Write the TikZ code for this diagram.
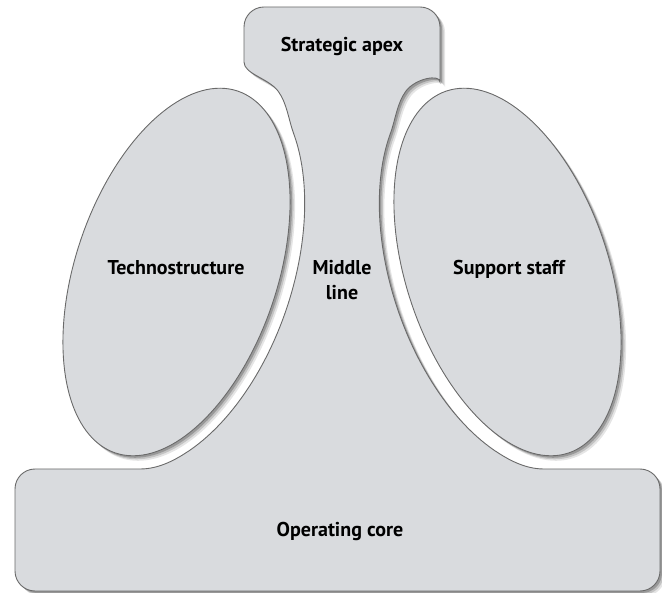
\documentclass[tikz,border=0pt]{standalone}
\usepackage{fontspec}
\setmainfont{PT Sans}
\definecolor{panel}{HTML}{D9DBDE}
\definecolor{edge}{HTML}{6A6A6A}
\begin{document}
\begin{tikzpicture}[x=1pt,y=-1pt,
  region/.style={fill=panel, draw=edge, line width=0.9pt},
  txt/.style={font=\bfseries\fontsize{20}{25}\selectfont, text=black, align=center, inner sep=0pt}]

% Outline of apex, middle line and operating core as one region;
% the flanks keep a narrow white channel around the two ovals.
\def\mainpath{(15,520) [rounded corners=20pt] -- (15,469) -- (80,469) [sharp corners] -- (140,469)
  .. controls (158,469) and (173.6,460.7) .. (185.4,453.2)
  -- plot[domain=0:110,samples=56,variable=\t]
     ({176.5+66.04*cos(145-\t)+109.88*sin(145-\t)},{272-195.12*cos(145-\t)+37.19*sin(145-\t)})
  .. controls (288.7,120.3) and (287,103) .. (278,91)
  .. controls (268,78) and (244,74) .. (244,62)
  [rounded corners=20pt] -- (244,7) -- (440,7) -- (440,62) [sharp corners]
  .. controls (440,74) and (416,78) .. (406,91)
  .. controls (397,103) and (395.3,120.3) .. (390.4,133.5)
  -- plot[domain=35:145,samples=56,variable=\t]
     ({507.5-66.04*cos(\t)-109.88*sin(\t)},{272-195.12*cos(\t)+37.19*sin(\t)})
  .. controls (510.4,460.7) and (526,469) .. (544,469)
  -- (600,469) [rounded corners=20pt] -- (660,469) -- (660,591) -- (15,591) -- (15,520)
  [sharp corners] -- cycle}

% The two ovals
\def\leftoval{plot[domain=0:360,samples=145,variable=\t]
  ({176.5+61.23*cos(\t)+95.67*sin(\t)},{272-180.92*cos(\t)+32.38*sin(\t)}) -- cycle}
\def\rightoval{plot[domain=0:360,samples=145,variable=\t]
  ({507.5-61.23*cos(\t)-95.67*sin(\t)},{272-180.92*cos(\t)+32.38*sin(\t)}) -- cycle}

\useasboundingbox (0,0) rectangle (662,593);

% soft drop shadows
\foreach \s/\o in {5/0.10, 3.5/0.15, 2/0.22} {
  \fill[black, opacity=\o, shift={(\s,\s)}] \mainpath;
}
\filldraw[region] \mainpath;

\foreach \s/\o in {5/0.10, 3.5/0.15, 2/0.22} {
  \fill[black, opacity=\o, shift={(\s,\s)}] \leftoval;
  \fill[black, opacity=\o, shift={(\s,\s)}] \rightoval;
}
\filldraw[region] \leftoval;
\filldraw[region] \rightoval;

% labels
\node[txt, anchor=base] (apex) at (342,52) {Strategic apex};
\node[txt, anchor=base] (techno) at (176,275) {Technostructure};
\node[txt] (middle) at (342,280) {Middle\\line};
\node[txt, anchor=base] (support) at (509,275) {Support staff};
\node[txt, anchor=base] (core) at (340,537) {Operating core};
\end{tikzpicture}
\end{document}
